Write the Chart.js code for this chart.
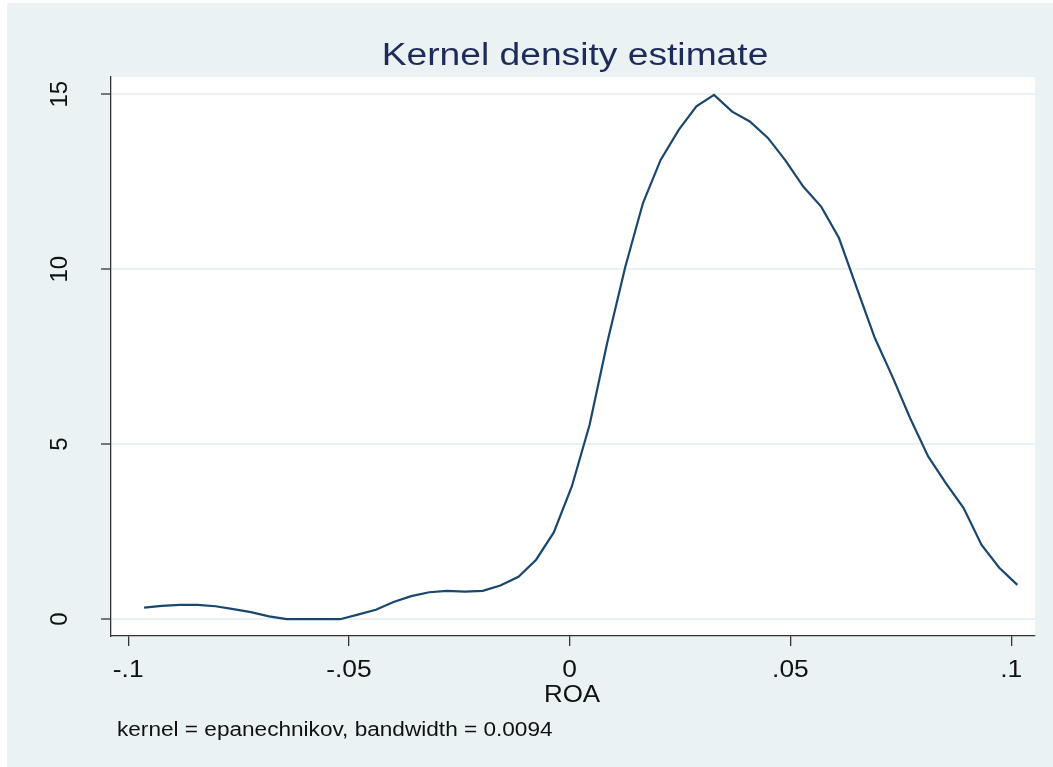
<!DOCTYPE html>
<html>
<head>
<meta charset="utf-8">
<title>Kernel density estimate</title>
<script src="https://cdn.jsdelivr.net/npm/chart.js@4/dist/chart.umd.min.js"></script>
<style>
  html, body { margin: 0; padding: 0; background: #ffffff; }
  #wrap { width: 1053px; height: 767px; position: relative; }
  canvas { display: block; }
</style>
</head>
<body>
<div id="wrap"><canvas id="kd" width="1053" height="767"></canvas></div>
<script>
// Evaluation grid of the density estimate (ROA values)
const roaGrid = [
  -0.0964, -0.0924, -0.0883, -0.0843, -0.0802, -0.0762, -0.0722, -0.0681, -0.0641, -0.0601,
  -0.0560, -0.0520, -0.0480, -0.0439, -0.0399, -0.0359, -0.0318, -0.0278, -0.0238, -0.0197,
  -0.0157, -0.0116, -0.0076, -0.0036,  0.0005,  0.0045,  0.0085,  0.0126,  0.0166,  0.0206,
   0.0247,  0.0287,  0.0327,  0.0368,  0.0408,  0.0449,  0.0489,  0.0529,  0.0570,  0.0610,
   0.0650,  0.0691,  0.0731,  0.0771,  0.0812,  0.0852,  0.0892,  0.0933,  0.0973,  0.1014
];

// Estimated density at each grid point
const density = [
  0.33, 0.38, 0.41, 0.41, 0.37, 0.29, 0.20, 0.08, 0.00, 0.00,
  0.00, 0.00, 0.13, 0.27, 0.49, 0.66, 0.77, 0.81, 0.79, 0.81,
  0.96, 1.21, 1.70, 2.48, 3.80, 5.55, 7.90, 10.07, 11.89, 13.12,
  13.98, 14.65, 14.98, 14.50, 14.22, 13.75, 13.10, 12.36, 11.78, 10.89,
  9.47, 8.04, 6.93, 5.75, 4.65, 3.89, 3.18, 2.12, 1.47, 0.98
];

// Axis ticks and their printed labels
const xTickValues = [-0.1, -0.05, 0, 0.05, 0.1];
const xTickLabels = ['-.1', '-.05', '0', '.05', '.1'];
const yTickValues = [0, 5, 10, 15];
const yTickLabels = ['0', '5', '10', '15'];

const titleText = 'Kernel density estimate';
const xAxisTitle = 'ROA';
const noteText = 'kernel = epanechnikov, bandwidth = 0.0094';

const points = roaGrid.map((x, i) => ({ x: x, y: density[i] }));

const FONT = '"Liberation Sans", Arial, Helvetica, sans-serif';
const BG = '#eaf2f3';

// Draws text with a slight horizontal widening, centred or left aligned at x
function wideText(ctx, text, x, y, size, stretch, align) {
  ctx.save();
  ctx.font = size + 'px ' + FONT;
  ctx.textBaseline = 'alphabetic';
  ctx.textAlign = 'left';
  const w = ctx.measureText(text).width * stretch;
  const x0 = align === 'center' ? x - w / 2 : x;
  ctx.translate(x0, y);
  ctx.scale(stretch, 1);
  ctx.fillText(text, 0, 0);
  ctx.restore();
}

// Outer graph region and white plot region
const backdrop = {
  id: 'backdrop',
  beforeDraw(chart) {
    const ctx = chart.ctx;
    const a = chart.chartArea;
    ctx.save();
    ctx.fillStyle = '#ffffff';
    ctx.fillRect(0, 0, chart.width, chart.height);
    ctx.fillStyle = BG;
    ctx.fillRect(7, 3, chart.width - 7, chart.height - 3);
    ctx.fillStyle = '#ffffff';
    ctx.fillRect(a.left, a.top, a.right - a.left, a.bottom - a.top);
    ctx.restore();
  }
};

// Titles, tick labels and the note line
const annotations = {
  id: 'annotations',
  afterDraw(chart) {
    const ctx = chart.ctx;
    const xs = chart.scales.x;
    const ys = chart.scales.y;
    ctx.save();

    ctx.fillStyle = '#1e2b58';
    wideText(ctx, titleText, 575, 65, 31, 1.2, 'center');

    ctx.fillStyle = '#111111';
    yTickValues.forEach((v, i) => {
      const py = ys.getPixelForValue(v);
      ctx.save();
      ctx.translate(66.5, py);
      ctx.rotate(-Math.PI / 2);
      ctx.font = '24px ' + FONT;
      ctx.textAlign = 'center';
      ctx.textBaseline = 'alphabetic';
      ctx.fillText(yTickLabels[i], 0, 0);
      ctx.restore();
    });

    xTickValues.forEach((v, i) => {
      wideText(ctx, xTickLabels[i], xs.getPixelForValue(v), 677, 24, 1.1, 'center');
    });

    wideText(ctx, xAxisTitle, 572, 702, 24, 1.08, 'center');
    wideText(ctx, noteText, 117, 736, 20, 1.13, 'left');
    ctx.restore();
  }
};

new Chart(document.getElementById('kd'), {
  type: 'scatter',
  data: {
    datasets: [{
      data: points,
      showLine: true,
      borderColor: '#1a476f',
      borderWidth: 2.2,
      pointRadius: 0,
      pointHoverRadius: 0,
      tension: 0,
      fill: false
    }]
  },
  options: {
    responsive: false,
    animation: false,
    events: [],
    layout: { padding: { left: 111, top: 77, right: 18, bottom: 131 } },
    plugins: {
      legend: { display: false },
      tooltip: { enabled: false },
      title: { display: false }
    },
    scales: {
      x: {
        type: 'linear',
        min: -0.1039,
        max: 0.1054,
        afterFit(scale) { scale.height = 0; },
        afterBuildTicks(scale) { scale.ticks = xTickValues.map(v => ({ value: v })); },
        grid: {
          display: true,
          drawOnChartArea: false,
          drawTicks: true,
          tickLength: 10,
          color: '#333333',
          lineWidth: 1.3
        },
        border: { display: true, color: '#333333', width: 1.3 },
        ticks: { display: false }
      },
      y: {
        type: 'linear',
        min: -0.48,
        max: 15.49,
        afterFit(scale) { scale.width = 0; },
        afterBuildTicks(scale) { scale.ticks = yTickValues.map(v => ({ value: v })); },
        grid: {
          display: true,
          drawOnChartArea: true,
          drawTicks: true,
          tickLength: 10,
          color: BG,
          tickColor: '#333333',
          lineWidth: 2,
          tickWidth: 1.3
        },
        border: { display: true, color: '#333333', width: 1.3 },
        ticks: { display: false }
      }
    }
  },
  plugins: [backdrop, annotations]
});
</script>
</body>
</html>
